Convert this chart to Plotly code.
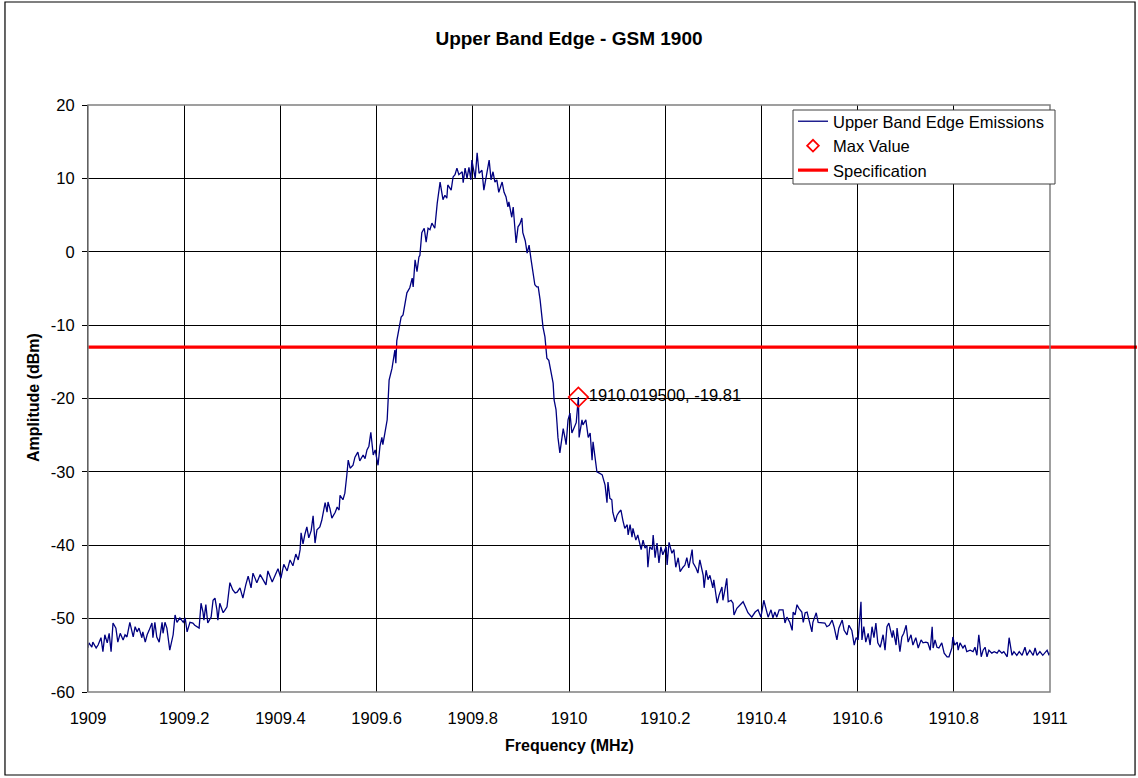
import plotly.graph_objects as go

# ---------------- data ----------------
freq_mhz = [
    1909.000, 1909.002, 1909.008, 1909.010, 1909.017, 1909.021, 1909.027, 1909.031, 1909.035, 1909.040,
    1909.044, 1909.048, 1909.052, 1909.058, 1909.062, 1909.067, 1909.073, 1909.077, 1909.081, 1909.087,
    1909.094, 1909.098, 1909.102, 1909.106, 1909.112, 1909.114, 1909.119, 1909.123, 1909.127, 1909.133,
    1909.135, 1909.139, 1909.143, 1909.148, 1909.154, 1909.156, 1909.160, 1909.164, 1909.170, 1909.177,
    1909.181, 1909.185, 1909.191, 1909.198, 1909.202, 1909.206, 1909.212, 1909.218, 1909.222, 1909.227,
    1909.231, 1909.235, 1909.239, 1909.241, 1909.245, 1909.249, 1909.256, 1909.260, 1909.264, 1909.268,
    1909.270, 1909.274, 1909.281, 1909.285, 1909.289, 1909.295, 1909.301, 1909.306, 1909.310, 1909.316,
    1909.322, 1909.328, 1909.333, 1909.339, 1909.343, 1909.351, 1909.358, 1909.370, 1909.374, 1909.383,
    1909.389, 1909.395, 1909.401, 1909.407, 1909.414, 1909.420, 1909.426, 1909.432, 1909.437, 1909.441,
    1909.443, 1909.447, 1909.451, 1909.455, 1909.459, 1909.464, 1909.468, 1909.472, 1909.476, 1909.482,
    1909.486, 1909.493, 1909.497, 1909.499, 1909.503, 1909.507, 1909.514, 1909.518, 1909.522, 1909.524,
    1909.530, 1909.534, 1909.538, 1909.541, 1909.545, 1909.551, 1909.555, 1909.561, 1909.565, 1909.572,
    1909.576, 1909.580, 1909.584, 1909.588, 1909.593, 1909.597, 1909.603, 1909.607, 1909.611, 1909.613,
    1909.617, 1909.622, 1909.626, 1909.632, 1909.638, 1909.640, 1909.642, 1909.647, 1909.651, 1909.655,
    1909.659, 1909.663, 1909.669, 1909.674, 1909.676, 1909.680, 1909.684, 1909.688, 1909.690, 1909.694,
    1909.699, 1909.703, 1909.707, 1909.711, 1909.715, 1909.719, 1909.721, 1909.726, 1909.732, 1909.738,
    1909.742, 1909.746, 1909.748, 1909.755, 1909.759, 1909.763, 1909.767, 1909.771, 1909.778, 1909.780,
    1909.784, 1909.788, 1909.792, 1909.796, 1909.798, 1909.805, 1909.809, 1909.813, 1909.819, 1909.823,
    1909.830, 1909.834, 1909.838, 1909.842, 1909.846, 1909.850, 1909.854, 1909.861, 1909.865, 1909.869,
    1909.873, 1909.875, 1909.881, 1909.884, 1909.890, 1909.894, 1909.898, 1909.902, 1909.904, 1909.909,
    1909.913, 1909.917, 1909.921, 1909.925, 1909.929, 1909.933, 1909.936, 1909.940, 1909.944, 1909.946,
    1909.950, 1909.954, 1909.958, 1909.965, 1909.967, 1909.969, 1909.973, 1909.975, 1909.977, 1909.981,
    1909.985, 1909.988, 1909.992, 1909.994, 1909.998, 1910.002, 1910.006, 1910.010, 1910.015, 1910.0195,
    1910.021, 1910.027, 1910.029, 1910.035, 1910.040, 1910.044, 1910.048, 1910.050, 1910.054, 1910.058,
    1910.064, 1910.069, 1910.075, 1910.079, 1910.081, 1910.085, 1910.089, 1910.091, 1910.096, 1910.100,
    1910.104, 1910.108, 1910.112, 1910.116, 1910.121, 1910.123, 1910.127, 1910.131, 1910.133, 1910.139,
    1910.143, 1910.150, 1910.154, 1910.158, 1910.162, 1910.164, 1910.168, 1910.173, 1910.175, 1910.179,
    1910.183, 1910.187, 1910.191, 1910.195, 1910.202, 1910.204, 1910.208, 1910.214, 1910.218, 1910.222,
    1910.227, 1910.231, 1910.237, 1910.241, 1910.245, 1910.249, 1910.256, 1910.258, 1910.264, 1910.268,
    1910.272, 1910.279, 1910.281, 1910.285, 1910.289, 1910.293, 1910.299, 1910.301, 1910.308, 1910.312,
    1910.318, 1910.320, 1910.324, 1910.328, 1910.331, 1910.337, 1910.341, 1910.343, 1910.349, 1910.356,
    1910.362, 1910.368, 1910.372, 1910.380, 1910.387, 1910.393, 1910.399, 1910.405, 1910.410, 1910.414,
    1910.420, 1910.424, 1910.428, 1910.432, 1910.437, 1910.445, 1910.449, 1910.453, 1910.459, 1910.464,
    1910.466, 1910.470, 1910.474, 1910.478, 1910.484, 1910.487, 1910.491, 1910.495, 1910.499, 1910.505,
    1910.507, 1910.514, 1910.518, 1910.526, 1910.532, 1910.536, 1910.541, 1910.547, 1910.551, 1910.557,
    1910.561, 1910.568, 1910.572, 1910.578, 1910.582, 1910.588, 1910.593, 1910.597, 1910.601, 1910.607,
    1910.609, 1910.613, 1910.617, 1910.622, 1910.626, 1910.630, 1910.634, 1910.638, 1910.642, 1910.647,
    1910.653, 1910.657, 1910.661, 1910.665, 1910.672, 1910.674, 1910.680, 1910.682, 1910.688, 1910.692,
    1910.696, 1910.701, 1910.705, 1910.711, 1910.715, 1910.721, 1910.726, 1910.732, 1910.736, 1910.742,
    1910.746, 1910.751, 1910.755, 1910.757, 1910.761, 1910.765, 1910.769, 1910.775, 1910.780, 1910.786,
    1910.790, 1910.796, 1910.798, 1910.802, 1910.807, 1910.809, 1910.813, 1910.819, 1910.823, 1910.827,
    1910.834, 1910.840, 1910.844, 1910.848, 1910.852, 1910.857, 1910.861, 1910.865, 1910.869, 1910.873,
    1910.879, 1910.884, 1910.890, 1910.894, 1910.900, 1910.904, 1910.911, 1910.915, 1910.921, 1910.925,
    1910.931, 1910.936, 1910.942, 1910.948, 1910.952, 1910.958, 1910.965, 1910.969, 1910.973, 1910.979,
    1910.985, 1910.994, 1910.998, 1911.000,
]

amplitude_dbm = [
    -54.0, -53.3, -53.9, -53.2, -54.0, -53.6, -52.6, -54.5, -52.2, -53.3,
    -52.0, -54.5, -50.6, -51.3, -53.2, -52.0, -52.9, -52.2, -52.5, -50.5,
    -52.5, -51.1, -51.8, -51.3, -52.6, -51.8, -53.2, -52.2, -51.6, -50.6,
    -52.6, -50.5, -52.5, -53.2, -50.5, -52.0, -50.5, -51.3, -54.3, -52.2,
    -49.5, -50.5, -49.9, -50.5, -49.9, -51.8, -50.5, -50.6, -50.9, -51.1,
    -51.3, -47.9, -49.1, -50.2, -48.1, -50.6, -49.8, -47.5, -47.2, -48.8,
    -50.2, -47.9, -49.2, -48.8, -48.4, -45.1, -46.1, -46.5, -46.4, -45.8,
    -47.2, -45.4, -44.2, -45.8, -43.8, -45.1, -44.0, -45.4, -43.5, -45.0,
    -44.0, -43.2, -44.5, -42.6, -43.5, -42.0, -42.8, -41.2, -42.0, -40.6,
    -38.3, -39.8, -38.5, -37.5, -39.0, -38.0, -36.0, -39.7, -37.9, -37.5,
    -36.6, -34.2, -35.5, -34.1, -35.0, -36.3, -35.5, -34.8, -35.2, -33.2,
    -33.8, -32.9, -30.5, -28.4, -29.5, -29.1, -28.0, -27.3, -28.5, -27.7,
    -28.2, -27.0, -26.5, -24.6, -27.7, -27.0, -29.1, -26.5, -25.3, -26.3,
    -24.8, -22.9, -17.5, -15.9, -13.4, -15.2, -12.1, -10.5, -8.9, -8.6,
    -7.2, -5.6, -4.9, -3.6, -4.8, -1.1, -2.7, -0.7, -0.5, 2.6,
    3.2, 1.3, 3.2, 3.0, 3.9, 3.5, 3.2, 6.6, 9.5, 7.1,
    7.7, 7.3, 9.1, 8.4, 10.2, 10.5, 11.4, 10.5, 10.9, 9.4,
    11.4, 10.0, 11.5, 9.8, 12.5, 10.0, 13.5, 10.7, 11.1, 8.4,
    10.7, 12.5, 9.8, 10.9, 9.5, 9.8, 8.1, 9.5, 8.1, 7.5,
    6.1, 6.8, 4.7, 6.1, 1.2, 3.4, 3.8, 4.6, 2.6, 1.5,
    -0.2, 0.9, -1.0, -2.5, -4.5, -4.8, -4.8, -6.6, -9.3, -10.3,
    -11.6, -14.5, -14.8, -17.5, -17.9, -20.2, -21.5, -23.3, -25.3, -27.4,
    -25.3, -24.1, -25.5, -26.3, -22.9, -22.0, -24.7, -24.1, -23.3, -19.81,
    -25.3, -22.9, -23.6, -22.9, -25.3, -24.7, -28.4, -25.9, -27.9, -30.0,
    -30.2, -30.4, -31.8, -34.2, -31.4, -33.6, -33.8, -35.5, -36.8, -35.9,
    -35.5, -35.2, -36.6, -37.7, -37.2, -38.6, -37.2, -38.9, -37.7, -39.3,
    -38.6, -40.6, -39.3, -40.4, -40.0, -43.0, -40.2, -40.6, -38.6, -41.7,
    -39.7, -42.4, -40.2, -41.3, -40.2, -42.7, -39.6, -41.1, -40.6, -43.0,
    -41.7, -43.6, -43.0, -42.7, -41.7, -43.1, -40.6, -42.4, -43.1, -43.8,
    -42.0, -44.1, -45.8, -43.4, -44.7, -44.1, -45.8, -44.7, -47.9, -46.8,
    -45.7, -47.5, -46.1, -44.5, -47.7, -47.5, -47.9, -49.5, -48.6, -48.1,
    -47.7, -48.6, -49.2, -49.8, -49.1, -48.8, -49.8, -47.5, -48.6, -49.8,
    -48.8, -49.9, -49.1, -49.8, -48.8, -48.8, -50.6, -49.8, -50.5, -51.6,
    -49.1, -49.5, -48.1, -48.6, -49.1, -50.5, -49.2, -49.1, -50.2, -51.8,
    -50.5, -49.2, -50.5, -50.5, -50.6, -51.1, -50.9, -50.2, -51.1, -52.9,
    -51.3, -50.2, -51.6, -52.2, -50.9, -51.6, -53.6, -52.6, -52.9, -47.7,
    -52.9, -51.1, -53.2, -52.0, -53.6, -51.1, -52.6, -50.6, -53.3, -53.9,
    -52.2, -54.3, -51.1, -50.6, -52.6, -51.6, -53.6, -51.3, -54.5, -52.5,
    -52.0, -50.9, -53.2, -52.2, -53.6, -52.6, -54.0, -52.9, -53.3, -53.2,
    -53.3, -54.3, -51.1, -54.0, -52.9, -53.9, -54.0, -53.3, -54.7, -55.2,
    -55.2, -54.0, -52.5, -53.6, -53.2, -54.3, -53.3, -54.0, -53.6, -54.5,
    -54.3, -54.5, -53.9, -55.0, -52.2, -55.2, -54.3, -53.9, -55.2, -54.3,
    -54.7, -54.5, -54.7, -54.3, -54.7, -54.5, -55.2, -52.6, -55.0, -54.5,
    -55.0, -54.5, -55.0, -53.9, -55.0, -54.3, -55.0, -54.0, -55.0, -54.5,
    -55.0, -54.3, -55.0, -54.6,
]

max_freq = [1910.0195]
max_amp = [-19.81]
max_label = ["1910.019500, -19.81"]

spec_freq = [1909.0, 1911.0]
spec_level = -13.0

x_ticks = [1909, 1909.2, 1909.4, 1909.6, 1909.8, 1910, 1910.2, 1910.4, 1910.6, 1910.8, 1911]
x_tick_text = ["1909", "1909.2", "1909.4", "1909.6", "1909.8", "1910", "1910.2", "1910.4", "1910.6", "1910.8", "1911"]
y_ticks = [-60, -50, -40, -30, -20, -10, 0, 10, 20]
y_tick_text = ["-60", "-50", "-40", "-30", "-20", "-10", "0", "10", "20"]

FONT = "Arial, Liberation Sans, Helvetica, sans-serif"
TXT = 16.5

# ---------------- figure ----------------
fig = go.Figure()

fig.add_trace(go.Scatter(
    x=freq_mhz, y=amplitude_dbm, mode="lines",
    name="Upper Band Edge Emissions",
    line=dict(color="#000080", width=1.3),
))
# legend entry for the max marker (small diamond, as in the reference legend)
fig.add_trace(go.Scatter(
    x=[None], y=[None], mode="markers", name="Max Value",
    marker=dict(symbol="diamond-open", size=9, color="#FF0000", line=dict(width=1.8, color="#FF0000")),
))
fig.add_trace(go.Scatter(
    x=spec_freq, y=[spec_level, spec_level], mode="lines",
    name="Specification",
    line=dict(color="#FF0000", width=3.2),
))
fig.add_trace(go.Scatter(
    x=max_freq, y=max_amp, mode="markers+text",
    name="Max Value", showlegend=False,
    marker=dict(symbol="diamond-open", size=15, color="#FF0000", line=dict(width=1.6, color="#FF0000")),
    text=max_label, textposition="middle right",
    textfont=dict(family=FONT, size=TXT, color="#000000"),
    cliponaxis=False,
))

# spec line continues to the right edge of the chart
fig.add_shape(type="line", xref="paper", yref="y", x0=1.0, x1=1.0905,
              y0=spec_level, y1=spec_level, line=dict(color="#FF0000", width=3.2), layer="above")

# plot area frame (grey) and outer chart border (black)
fig.add_shape(type="rect", xref="paper", yref="paper", x0=0, x1=1, y0=0, y1=1,
              line=dict(color="#808080", width=1.5), layer="above")
fig.add_shape(type="rect", xref="paper", yref="paper", x0=-0.0863, x1=1.0884, y0=-0.1414, y1=1.1755,
              line=dict(color="#000000", width=1.2))
# legend box
fig.add_shape(type="rect", xref="paper", yref="paper",
              x0=(793 - 88) / 962, x1=(1055 - 88) / 962,
              y0=(692 - 184) / 587, y1=(692 - 110) / 587,
              fillcolor="white", line=dict(color="#404040", width=1), layer="above")

fig.update_layout(
    width=1138, height=778,
    margin=dict(l=88, r=88, t=105, b=86),
    paper_bgcolor="white", plot_bgcolor="white",
    font=dict(family=FONT, size=TXT, color="#000000"),
    title=dict(text="<b>Upper Band Edge - GSM 1900</b>", x=0.5, xref="paper", xanchor="center",
               y=1 - 38 / 778, yref="container", yanchor="middle",
               font=dict(family=FONT, size=19, color="#000000")),
    showlegend=True,
    legend=dict(x=(793 - 88) / 962, y=(692 - 104) / 587, xanchor="left", yanchor="top",
                bgcolor="rgba(0,0,0,0)", borderwidth=0,
                font=dict(family=FONT, size=TXT, color="#000000"),
                tracegroupgap=0),
)

fig.update_xaxes(range=[1909, 1911], tickvals=x_ticks, ticktext=x_tick_text,
                 showgrid=True, gridcolor="#000000", gridwidth=1,
                 showline=False, zeroline=False, ticks="", ticklabelstandoff=14,
                 tickfont=dict(family=FONT, size=TXT, color="#000000"))
fig.update_yaxes(range=[-60, 20], tickvals=y_ticks, ticktext=y_tick_text,
                 showgrid=True, gridcolor="#000000", gridwidth=1,
                 showline=True, linecolor="#000000", linewidth=1,
                 zeroline=False, ticks="outside", ticklen=5, tickcolor="#000000",
                 ticklabelstandoff=4,
                 tickfont=dict(family=FONT, size=TXT, color="#000000"))

fig.add_annotation(text="<b>Frequency (MHz)</b>", xref="paper", yref="paper",
                   x=0.5, y=(692 - 745) / 587, xanchor="center", yanchor="middle",
                   showarrow=False, font=dict(family=FONT, size=16, color="#000000"))
fig.add_annotation(text="<b>Amplitude (dBm)</b>", xref="paper", yref="paper",
                   x=(33 - 88) / 962, y=(692 - 398) / 587, xanchor="center", yanchor="middle",
                   textangle=-90, showarrow=False, font=dict(family=FONT, size=16, color="#000000"))

fig.write_html("out.html", post_script="document.body.style.margin='0';",
               config={"displayModeBar": False})
